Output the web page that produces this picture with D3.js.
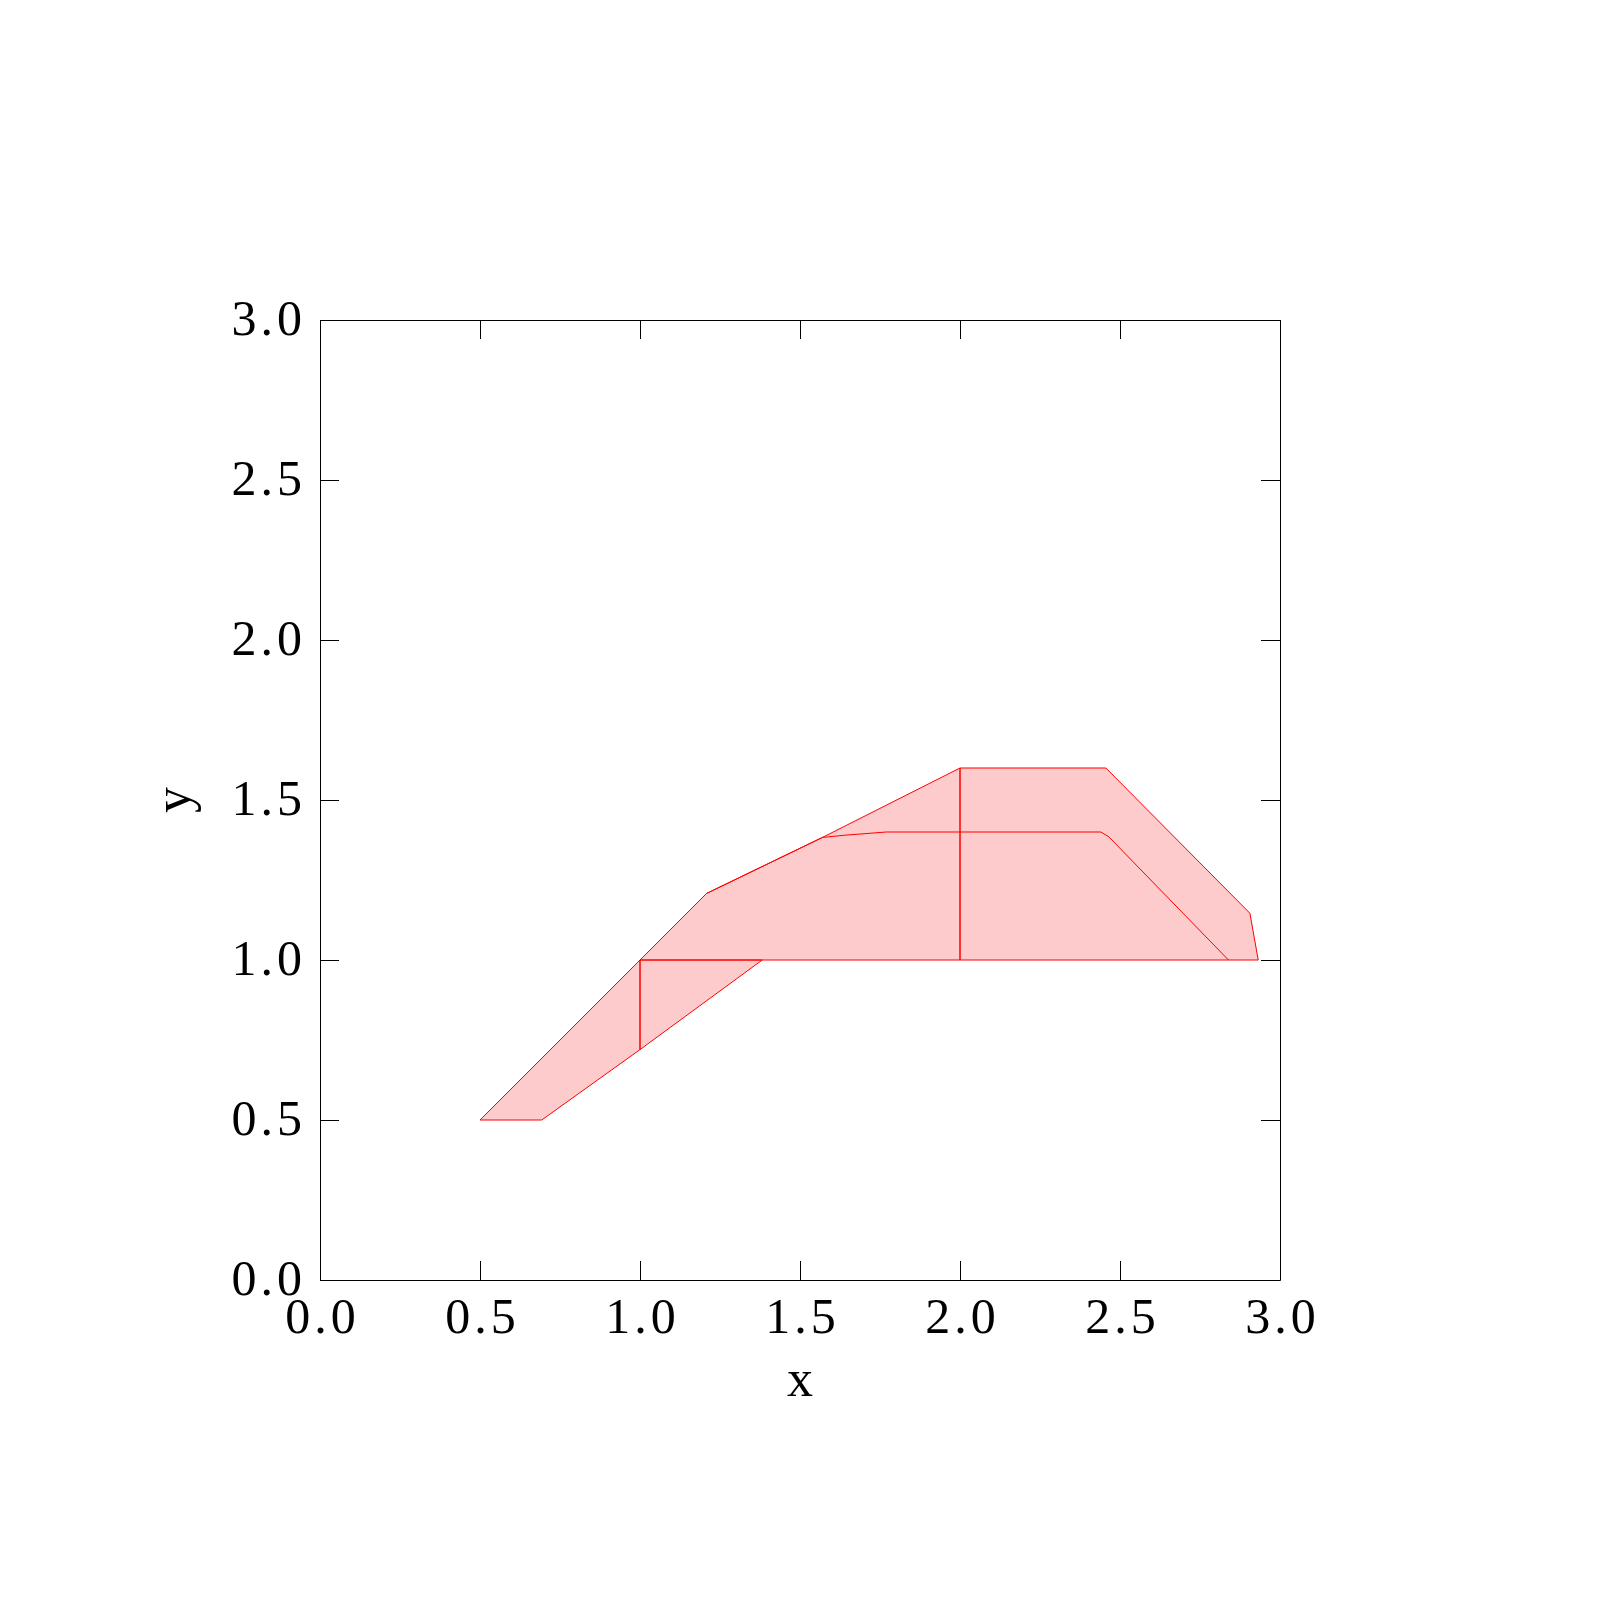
<!DOCTYPE html>
<html><head><meta charset="utf-8">
<script src="https://cdn.jsdelivr.net/npm/d3@7"></script>
<style>body{margin:0;background:#fff}</style>
</head><body>
<script>
// Data (x, y pairs in data units)
const tickValues = [0, 0.5, 1.0, 1.5, 2.0, 2.5, 3.0];
const regionLeft   = [[0.5,0.5],[0.693,0.5],[1.0,0.72],[1.0,1.0]];
const regionTri    = [[1.0,0.72],[1.382,1.0],[1.0,1.0]];
const regionMiddle = [[1.0,1.0],[1.208,1.208],[1.57,1.383],[2.0,1.6],[2.0,1.0]];
const regionRight  = [[2.0,1.0],[2.0,1.6],[2.456,1.6],[2.906,1.146],[2.932,1.0]];
const innerCurve   = [[1.208,1.208],[1.57,1.383],[1.64,1.39],[1.77,1.40],[2.44,1.40],[2.465,1.385],[2.839,1.0]];
const polygons = [regionLeft, regionTri, regionMiddle, regionRight];

const W = 1600, H = 1600;
const svg = d3.select("body").append("svg").attr("width", W).attr("height", H);
const x = d3.scaleLinear().domain([0,3]).range([320,1280]);
const y = d3.scaleLinear().domain([0,3]).range([1280,320]);
const line = d3.line().x(d => x(d[0])).y(d => y(d[1]));

const g = svg.append("g");
polygons.forEach(p => {
  g.append("path").attr("d", line(p) + "Z")
    .attr("fill", "#fdcbcb").attr("stroke", "none");
});
polygons.forEach(p => {
  g.append("path").attr("d", line(p) + "Z")
    .attr("fill", "none").attr("stroke", "#ff0000").attr("stroke-width", 1);
});
g.append("path").attr("d", line(innerCurve))
  .attr("fill", "none").attr("stroke", "#ff0000").attr("stroke-width", 1);

const font = "'Liberation Serif', 'DejaVu Serif', serif";
const fmt = d3.format(".1f");

function styleAxis(sel) {
  sel.selectAll("path.domain").attr("stroke", "#000").attr("stroke-width", 1);
  sel.selectAll(".tick line").attr("stroke", "#000").attr("stroke-width", 1);
  sel.selectAll(".tick text").attr("fill", "#000")
     .style("font-family", font).style("font-size", "50px")
     .style("letter-spacing", "4px");
}

const ax = svg.append("g").attr("transform", "translate(0,1280)")
  .call(d3.axisBottom(x).tickValues(tickValues).tickFormat(fmt).tickSizeInner(-19).tickSizeOuter(0).tickPadding(17));
styleAxis(ax);
ax.selectAll(".tick text").attr("dx", "2px");
const at = svg.append("g").attr("transform", "translate(0,320)")
  .call(d3.axisTop(x).tickValues(tickValues).tickFormat("").tickSizeInner(-19).tickSizeOuter(0));
styleAxis(at);
const ay = svg.append("g").attr("transform", "translate(320,0)")
  .call(d3.axisLeft(y).tickValues(tickValues).tickFormat(fmt).tickSizeInner(-19).tickSizeOuter(0).tickPadding(14));
styleAxis(ay);
ay.selectAll(".tick text").attr("dy", "0.28em");
const ar = svg.append("g").attr("transform", "translate(1280,0)")
  .call(d3.axisRight(y).tickValues(tickValues).tickFormat("").tickSizeInner(-19).tickSizeOuter(0));
styleAxis(ar);

svg.append("text").attr("x", 800).attr("y", 1396)
  .attr("text-anchor", "middle").style("font-family", font).style("font-size", "52px")
  .text("x");
svg.append("text").attr("transform", "translate(190,800) rotate(-90)")
  .attr("text-anchor", "middle").style("font-family", font).style("font-size", "52px")
  .text("y");
</script>
</body></html>
